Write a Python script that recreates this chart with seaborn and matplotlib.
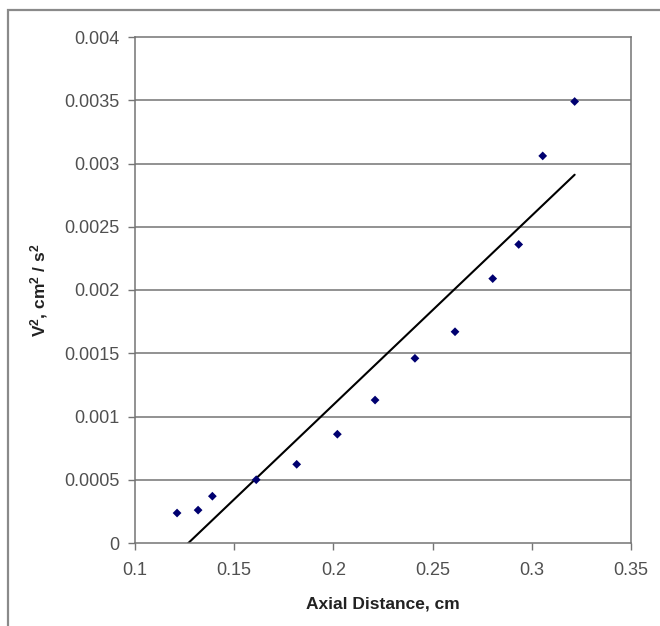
import numpy as np
import pandas as pd
import matplotlib
matplotlib.use("Agg")
import matplotlib.pyplot as plt
from matplotlib.patches import Rectangle
import seaborn as sns

# data
axial_cm = [0.1212, 0.1318, 0.1390, 0.1611, 0.1815, 0.2020, 0.2210,
            0.2411, 0.2613, 0.2803, 0.2934, 0.3055, 0.3216]
v_sq = [0.000237, 0.000260, 0.000370, 0.000500, 0.000622, 0.000860, 0.001130,
        0.001460, 0.001670, 0.002090, 0.002360, 0.003060, 0.003490]
x_ticks = [0.1, 0.15, 0.2, 0.25, 0.3, 0.35]
x_ticklabels = ["0.1", "0.15", "0.2", "0.25", "0.3", "0.35"]
y_ticks = [0, 0.0005, 0.001, 0.0015, 0.002, 0.0025, 0.003, 0.0035, 0.004]
y_ticklabels = ["0", "0.0005", "0.001", "0.0015", "0.002", "0.0025", "0.003", "0.0035", "0.004"]

df = pd.DataFrame({"x": axial_cm, "y": v_sq})

sns.set_style("white")
plt.rcParams["font.family"] = ["Liberation Sans", "DejaVu Sans"]
plt.rcParams["mathtext.default"] = "regular"

fig = plt.figure(figsize=(6.6, 6.26), dpi=100)
ax = fig.add_axes([135 / 660, 1 - 543 / 626, 496 / 660, 506 / 626])

# outer chart-area border
fig.patches.append(Rectangle((8 / 660, -0.05), 1.1, 1 - 10 / 626 + 0.05,
                             transform=fig.transFigure, fill=False,
                             edgecolor="#8a8a8a", linewidth=1.6))

grey = "#747474"
for y in y_ticks[1:-1]:
    ax.axhline(y, color=grey, linewidth=1.1, zorder=0)

# scatter + linear trend line (fit over the data range)
sns.regplot(data=df, x="x", y="y", ci=None, marker="D", ax=ax,
            scatter_kws=dict(s=20, color="#000070", alpha=1,
                             edgecolors="none", zorder=3),
            line_kws=dict(color="black", linewidth=1.5, zorder=2))

ax.set_xlim(0.1, 0.35)
ax.set_ylim(0, 0.004)
ax.set_xticks(x_ticks)
ax.set_xticklabels(x_ticklabels)
ax.set_yticks(y_ticks)
ax.set_yticklabels(y_ticklabels)
ax.tick_params(axis="both", direction="out", length=5, width=1, color=grey,
               labelsize=13, labelcolor="#505050", pad=6, left=True, bottom=True)
ax.tick_params(axis="x", pad=9)
for s in ax.spines.values():
    s.set_color(grey)
    s.set_linewidth(1.1)
    s.set_visible(True)

ax.set_xlabel("Axial Distance, cm", fontsize=12.5, fontweight="bold",
              color="#222222", labelpad=12)
ax.set_ylabel("V$^2$, cm$^2$ / s$^2$", fontsize=12.5, fontweight="bold",
              color="#222222", labelpad=10)

fig.savefig("out.png", dpi=100)
